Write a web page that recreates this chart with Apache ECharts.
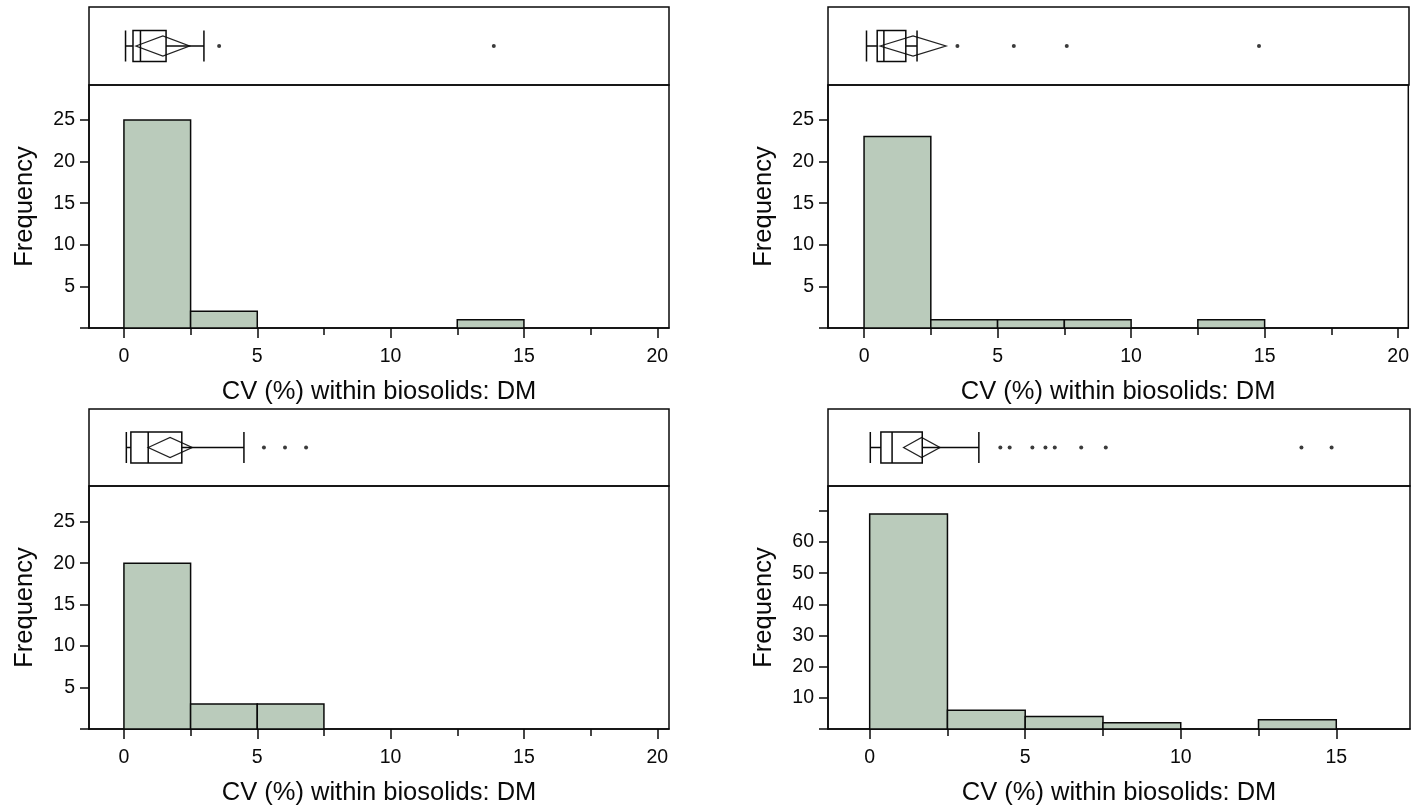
<!DOCTYPE html>
<html>
<head>
<meta charset="utf-8">
<script src="https://cdn.jsdelivr.net/npm/echarts@6/dist/echarts.min.js"></script>
<style>
  html, body { margin: 0; padding: 0; background: #fff; }
  #main { width: 1412px; height: 807px; }
</style>
</head>
<body>
<div id="main"></div>
<script>
// histogram bins (CV %), width 2.5
var binWidth = 2.5;
var binStart = [0, 2.5, 5, 7.5, 10, 12.5, 15, 17.5];

var countsTL = [25, 2, 0, 0, 0, 1, 0, 0];
var countsTR = [23, 1, 1, 1, 0, 1, 0, 0];
var countsBL = [20, 3, 3, 0, 0, 0, 0, 0];
var countsBR = [69, 6, 4, 2, 0, 3, 0, 0];

// box plot: [min, q1, median, q3, max]
var boxTL = [0.06, 0.34, 0.62, 1.58, 3.0];
var boxTR = [0.09, 0.49, 0.74, 1.56, 1.98];
var boxBL = [0.09, 0.26, 0.91, 2.17, 4.50];
var boxBR = [0.02, 0.36, 0.72, 1.69, 3.51];

// mean diamond: [lower, mean, upper]
var meanTL = [0.45, 1.46, 2.46];
var meanTR = [0.60, 1.83, 3.06];
var meanBL = [0.91, 1.73, 2.56];
var meanBR = [1.09, 1.67, 2.26];

// outliers
var outTL = [3.57, 13.87];
var outTR = [3.49, 5.60, 7.58, 14.77];
var outBL = [5.25, 6.04, 6.83];
var outBR = [4.20, 4.50, 5.23, 5.65, 5.95, 6.80, 7.59, 13.88, 14.85];

// tick values
var xMajor = [0, 5, 10, 15, 20];
var xMinor = [2.5, 7.5, 12.5, 17.5];
var xMajorBR = [0, 5, 10, 15];
var xMinorBR = [2.5, 7.5, 12.5];
var yTicks = [0, 5, 10, 15, 20, 25];
var yLabels = [5, 10, 15, 20, 25];
var yTicksBR = [0, 10, 20, 30, 40, 50, 60, 70];
var yLabelsBR = [10, 20, 30, 40, 50, 60];

var xTitle = 'CV (%) within biosolids: DM';
var yTitle = 'Frequency';

var FONT = 'Liberation Sans';
var INK = '#0a0a0a';
var FILL = '#bacbbb';
var LW = 1.5;

var option = {
    backgroundColor: '#ffffff',
    animation: false,
    grid: [],
    xAxis: [],
    yAxis: [],
    series: []
};

function addPanel(p) {
    var g = option.grid.length;
    var xi = option.xAxis.length;
    var yi = option.yAxis.length;

    option.grid.push({ left: p.left, top: p.top, width: p.width, height: p.boxH,
        show: true, borderColor: INK, borderWidth: LW, backgroundColor: 'transparent' });
    option.grid.push({ left: p.left, top: p.top + p.boxH, width: p.width, height: p.histH,
        show: true, borderColor: INK, borderWidth: LW, backgroundColor: 'transparent' });

    // box panel axes (hidden)
    option.xAxis.push({ gridIndex: g, type: 'value', min: p.xmin, max: p.xmax, show: false });
    option.yAxis.push({ gridIndex: g, type: 'category', data: [''], show: false });

    // histogram x axis, major ticks + labels
    option.xAxis.push({
        gridIndex: g + 1, type: 'value', position: 'bottom', min: p.xmin, max: p.xmax,
        axisLine: { show: true, onZero: false, lineStyle: { color: INK, width: LW } },
        axisTick: { show: true, customValues: p.major, length: 10, lineStyle: { color: INK, width: LW } },
        axisLabel: { customValues: p.major, margin: 19, fontSize: 19.5, color: INK, fontFamily: FONT },
        splitLine: { show: false },
        name: xTitle, nameLocation: 'middle', nameGap: 51,
        nameTextStyle: { fontSize: 25.5, color: INK, fontFamily: FONT }
    });
    // minor ticks
    option.xAxis.push({
        gridIndex: g + 1, type: 'value', position: 'bottom', min: p.xmin, max: p.xmax,
        axisLine: { show: false, onZero: false },
        axisTick: { show: true, customValues: p.minor, length: 7, lineStyle: { color: INK, width: LW } },
        axisLabel: { show: false },
        splitLine: { show: false }
    });
    option.yAxis.push({
        gridIndex: g + 1, type: 'value', min: 0, max: p.ymax,
        axisLine: { show: true, onZero: false, lineStyle: { color: INK, width: LW } },
        axisTick: { show: true, customValues: p.yt, length: 9, lineStyle: { color: INK, width: LW } },
        axisLabel: { customValues: p.yl, margin: 14, fontSize: 19.5, color: INK, fontFamily: FONT },
        splitLine: { show: false },
        name: yTitle, nameLocation: 'middle', nameGap: 51,
        nameTextStyle: { fontSize: 25.5, color: INK, fontFamily: FONT }
    });

    // histogram bars
    var bars = [];
    for (var i = 0; i < binStart.length; i++) {
        if (p.counts[i] > 0) {
            bars.push([binStart[i], binStart[i] + binWidth, p.counts[i]]);
        }
    }
    option.series.push({
        type: 'custom', xAxisIndex: xi + 1, yAxisIndex: yi + 1, silent: true,
        encode: { x: [0, 1], y: 2 },
        data: bars,
        renderItem: function (params, api) {
            var a = api.coord([api.value(0), api.value(2)]);
            var b = api.coord([api.value(1), 0]);
            return {
                type: 'rect',
                shape: { x: a[0], y: a[1], width: b[0] - a[0], height: b[1] - a[1] },
                style: { fill: FILL, stroke: INK, lineWidth: LW }
            };
        }
    });

    // box and whiskers
    option.series.push({
        type: 'boxplot', xAxisIndex: xi, yAxisIndex: yi, silent: true,
        layout: 'horizontal',
        boxWidth: [31, 31],
        itemStyle: { color: 'rgba(0,0,0,0)', borderColor: INK, borderWidth: LW },
        data: [p.box]
    });

    // mean diamond
    option.series.push({
        type: 'custom', xAxisIndex: xi, yAxisIndex: yi, silent: true,
        encode: { x: [0, 1, 2], y: 3 },
        data: [[p.mean[0], p.mean[1], p.mean[2], 0]],
        renderItem: function (params, api) {
            var lo = api.coord([api.value(0), 0]);
            var m = api.coord([api.value(1), 0]);
            var hi = api.coord([api.value(2), 0]);
            var h = 10;
            return {
                type: 'polygon',
                shape: { points: [lo, [m[0], m[1] - h], hi, [m[0], m[1] + h]] },
                style: { fill: 'none', stroke: '#222', lineWidth: 1.3 }
            };
        }
    });

    // outliers
    option.series.push({
        type: 'scatter', xAxisIndex: xi, yAxisIndex: yi, silent: true,
        symbol: 'circle', symbolSize: 4,
        itemStyle: { color: INK },
        data: p.out.map(function (v) { return [v, 0]; })
    });
}

addPanel({ left: 89, top: 7, width: 580, boxH: 78, histH: 243,
    xmin: -1.31, xmax: 20.44, ymax: 29.2, major: xMajor, minor: xMinor, yt: yTicks, yl: yLabels,
    counts: countsTL, box: boxTL, mean: meanTL, out: outTL });
addPanel({ left: 828, top: 7, width: 581, boxH: 78, histH: 243,
    xmin: -1.35, xmax: 20.38, ymax: 29.2, major: xMajor, minor: xMinor, yt: yTicks, yl: yLabels,
    counts: countsTR, box: boxTR, mean: meanTR, out: outTR });
addPanel({ left: 89, top: 409, width: 580, boxH: 77, histH: 244,
    xmin: -1.31, xmax: 20.44, ymax: 29.3, major: xMajor, minor: xMinor, yt: yTicks, yl: yLabels,
    counts: countsBL, box: boxBL, mean: meanBL, out: outBL });
addPanel({ left: 828, top: 409, width: 582, boxH: 77, histH: 244,
    xmin: -1.34, xmax: 17.37, ymax: 77.95, major: xMajorBR, minor: xMinorBR, yt: yTicksBR, yl: yLabelsBR,
    counts: countsBR, box: boxBR, mean: meanBR, out: outBR });

var chart = echarts.init(document.getElementById('main'));
chart.setOption(option);
</script>
</body>
</html>
